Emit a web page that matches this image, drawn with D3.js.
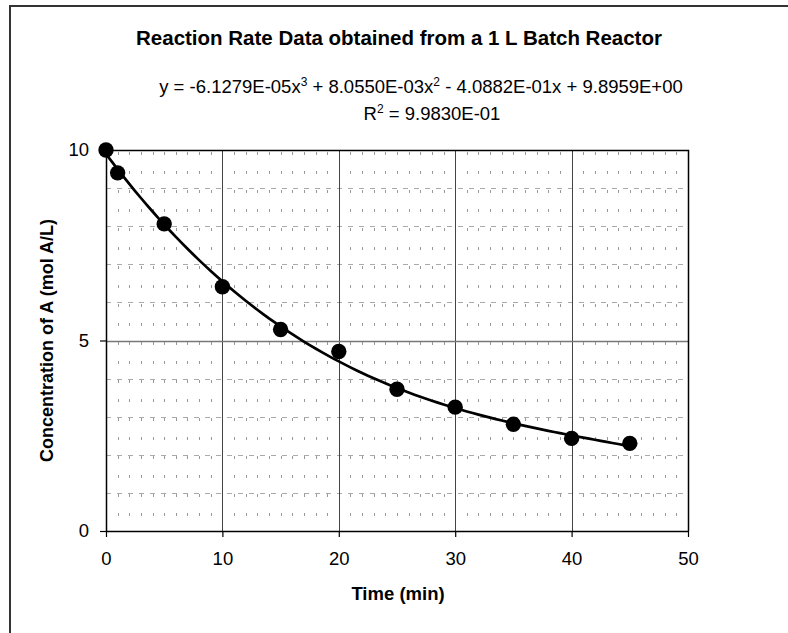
<!DOCTYPE html>
<html><head><meta charset="utf-8">
<script src="https://cdn.jsdelivr.net/npm/d3@7"></script>
<style>body{margin:0;background:#fff}svg{display:block}text{font-family:"Liberation Sans",Arial,sans-serif;fill:#000}</style>
</head><body>
<script>
const timeMin = [0, 1, 5, 10, 15, 20, 25, 30, 35, 40, 45];
const concA = [10.0, 9.40, 8.06, 6.41, 5.29, 4.71, 3.72, 3.25, 2.80, 2.43, 2.30];
const trendCoef = [9.8959, -4.0882e-01, 8.0550e-03, -6.1279e-05]; // c0..c3 from chart label
const xTicks = [0, 10, 20, 30, 40, 50];
const yTicks = [0, 5, 10];
const titleText = "Reaction Rate Data obtained from a 1 L Batch Reactor";
const xTitle = "Time (min)";
const yTitle = "Concentration of A (mol A/L)";

const W = 788, H = 633;
const svg = d3.select("body").append("svg").attr("width", W).attr("height", H);
const m = {l:106, t:150, r:688, b:531};
const x = d3.scaleLinear().domain([0,50]).range([m.l, m.r]);
const y = d3.scaleLinear().domain([0,10]).range([m.b, m.t]);

// outer frame
svg.append("path").attr("d", `M10,${H+5} L10,6 L${W+5},6`).attr("fill","none").attr("stroke","#333").attr("stroke-width",2);

const g = svg.append("g");
// minor vertical grid
const minorX = d3.range(1,50).filter(v => v % 10 !== 0);
g.selectAll(".mvx").data(minorX).join("line")
  .attr("x1", d=>Math.round(x(d))+0.5).attr("x2", d=>Math.round(x(d))+0.5).attr("y1", m.t).attr("y2", m.b)
  .attr("stroke","#999").attr("stroke-width",1).attr("stroke-dasharray","3,16").attr("stroke-dashoffset",-2);
// minor horizontal grid
const minorY = d3.range(1,10).filter(v => v !== 5);
g.selectAll(".mhy").data(minorY).join("line")
  .attr("x1", m.l).attr("x2", m.r).attr("y1", d=>Math.round(y(d))+0.5).attr("y2", d=>Math.round(y(d))+0.5)
  .attr("stroke","#aaa").attr("stroke-width",1).attr("stroke-dasharray","5,6");
// major grid
g.selectAll(".gx").data([10,20,30,40]).join("line")
  .attr("x1", d=>Math.round(x(d))+0.5).attr("x2", d=>Math.round(x(d))+0.5).attr("y1", m.t).attr("y2", m.b)
  .attr("stroke","#444").attr("stroke-width",1);
g.append("line").attr("x1", m.l).attr("x2", m.r).attr("y1", Math.round(y(5))+0.5).attr("y2", Math.round(y(5))+0.5)
  .attr("stroke","#777").attr("stroke-width",1.5);
// plot border top/right
g.append("path").attr("d", `M${m.l},${m.t+0.5} L${m.r+0.5},${m.t+0.5} L${m.r+0.5},${m.b}`).attr("fill","none").attr("stroke","#000").attr("stroke-width",1.5);

// axes
const xAxis = d3.axisBottom(x).tickValues(xTicks).tickSize(6).tickSizeOuter(0).tickPadding(15);
const yAxis = d3.axisLeft(y).tickValues(yTicks).tickSize(6).tickSizeOuter(0).tickPadding(11);
const gx = svg.append("g").attr("transform", `translate(0,${m.b})`).call(xAxis);
const gy = svg.append("g").attr("transform", `translate(${m.l},0)`).call(yAxis);
[gx, gy].forEach(a => {
  a.select(".domain").attr("stroke","#000").attr("stroke-width",1.5);
  a.selectAll(".tick line").attr("stroke","#000").attr("stroke-width",1.2);
  a.selectAll(".tick text").style("font-size","18.5px").style("font-family","Liberation Sans, Arial, sans-serif").attr("fill","#000");
});

// trendline
const poly = t => trendCoef.reduce((s,c,i)=>s + c*Math.pow(t,i), 0);
const tPts = d3.range(0, 45.01, 0.5);
svg.append("path").datum(tPts)
  .attr("d", d3.line().x(d=>x(d)).y(d=>y(poly(d))))
  .attr("fill","none").attr("stroke","#000").attr("stroke-width",2.7);

// points
svg.selectAll(".pt").data(timeMin).join("circle")
  .attr("cx", d=>x(d)).attr("cy", (d,i)=>y(concA[i])).attr("r", 7.7).attr("fill","#000");

// titles
svg.append("text").attr("x", 399).attr("y", 45).attr("text-anchor","middle")
  .style("font-size","20.5px").style("font-weight","bold").text(titleText);
const eq = svg.append("text").attr("x", 421).attr("y", 93).attr("text-anchor","middle").style("font-size","18.5px");
eq.append("tspan").text("y = -6.1279E-05x");
eq.append("tspan").attr("dy",-7).style("font-size","12px").text("3");
eq.append("tspan").attr("dy",7).text(" + 8.0550E-03x");
eq.append("tspan").attr("dy",-7).style("font-size","12px").text("2");
eq.append("tspan").attr("dy",7).text(" - 4.0882E-01x + 9.8959E+00");
const r2 = svg.append("text").attr("x", 432).attr("y", 120).attr("text-anchor","middle").style("font-size","18.5px");
r2.append("tspan").text("R");
r2.append("tspan").attr("dy",-7).style("font-size","12px").text("2");
r2.append("tspan").attr("dy",7).text(" = 9.9830E-01");

svg.append("text").attr("x", 398).attr("y", 600).attr("text-anchor","middle")
  .style("font-size","18.5px").style("font-weight","bold").text(xTitle);
svg.append("text").attr("transform", `translate(53,${(m.t+m.b)/2}) rotate(-90)`).attr("text-anchor","middle")
  .style("font-size","18px").style("font-weight","bold").text(yTitle);
</script>
</body></html>
